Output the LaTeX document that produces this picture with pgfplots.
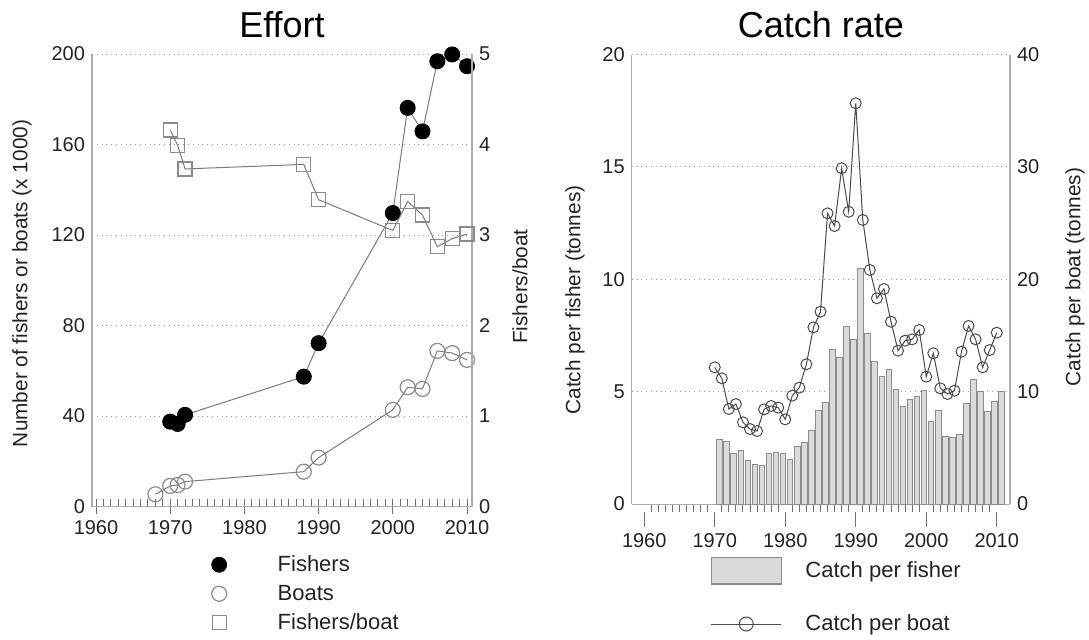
\documentclass[border=0pt]{standalone}
\usepackage{pgfplots}
\pgfplotsset{compat=1.18}
\usepackage{fontspec}
\setmainfont{Liberation Sans}
\definecolor{spine}{HTML}{ABABAB}
\definecolor{gridc}{HTML}{9A9A9A}
\definecolor{tickc}{HTML}{707070}
\definecolor{txt}{HTML}{222222}
\definecolor{mk}{HTML}{8A8A8A}
\definecolor{ln}{HTML}{7A7A7A}
\definecolor{barfill}{HTML}{DADADA}
\definecolor{baredge}{HTML}{8C8C8C}
\definecolor{cpb}{HTML}{4A4A4A}
\pgfplotsset{
  common/.style={
    scale only axis,
    /pgf/number format/assume math mode=true,
    /pgf/number format/1000 sep={},
    ticklabel style={font=\fontsize{10}{12}\selectfont, text=txt},
    axis line style={spine, line width=0.6pt},
    tick align=inside,
    ytick style={draw=none},
    xticklabel style={yshift=-3.6pt},
  },
  markleg/.style={legend image code/.code={\draw[##1, draw=none] plot coordinates {(0pt,0pt)}; \path (-8pt,0pt) -- (8pt,0pt);}},
  lineleg/.style={legend image code/.code={\draw[##1, mark repeat=2, mark phase=2] plot coordinates {(-17.5pt,0pt) (0pt,0pt) (17.5pt,0pt)};}},
  barleg/.style={legend image code/.code={\draw[fill=barfill, draw=baredge, line width=0.6pt] (-17.5pt,-6.65pt) rectangle (17.5pt,6.65pt);}},
}
\begin{document}
\begin{tikzpicture}
\path[use as bounding box] (0,0) rectangle (544.5pt,319.5pt);
% ---------------- Effort: left axis ----------------
\begin{axis}[common,
  at={(46pt,66.25pt)}, anchor=south west,
  width=190pt, height=226.25pt,
  xmin=1959.46, xmax=2010.67, ymin=0, ymax=200,
  axis x line*=bottom, axis y line*=left,
  xtick={1960,1970,...,2010}, minor x tick num=9,
  ytick={0,40,...,200},
  ymajorgrids, major grid style={dotted, gridc, line width=0.5pt},
  major tick length=7.5pt, minor tick length=4pt,
  major x tick style={yshift=-3.75pt, tickc, line width=0.5pt},
  minor x tick style={tickc, line width=0.5pt},
  title={Effort},
  every axis title/.style={at={(axis description cs:0.5,1.064)}, anchor=center, font=\fontsize{18}{21}\selectfont},
  ylabel={Number of fishers or boats (x 1000)},
  every axis y label/.style={at={(axis description cs:-0.184,0.493)}, rotate=90, anchor=center, font=\fontsize{10.4}{12}\selectfont, text=txt},
  legend cell align=left,
  legend style={at={(0.2926,-0.1078)}, anchor=north west, draw=none, fill=none,
    inner sep=0pt, outer sep=0pt, row sep=5pt, column sep=21.25pt,
    font=\fontsize{11}{13}\selectfont, nodes={inner sep=0pt, text=txt},
    /tikz/every even column/.append style={text height=8pt, text depth=0pt}},
]
\addplot[ln, line width=0.5pt, mark=*, mark size=3.75pt, mark options={fill=black, draw=black}, forget plot]
  coordinates {(1970,37.5)(1971,36.5)(1972,40.5)(1988,57.4)(1990,72.2)(2000,129.7)(2002,176.2)(2004,165.8)(2006,196.8)(2008,199.8)(2010,194.6)};
\addplot[ln, line width=0.5pt, mark=o, mark size=3.75pt, mark options={draw=mk, line width=0.6pt}, forget plot]
  coordinates {(1968,5.4)(1970,9.1)(1971,9.5)(1972,11)(1988,15.4)(1990,21.6)(2000,42.7)(2002,52.7)(2004,52)(2006,68.8)(2008,67.8)(2010,64.8)};
\addlegendimage{draw=none, mark=*, mark size=3.75pt, mark options={fill=black, draw=black}, markleg}
\addlegendentry{Fishers}
\addlegendimage{draw=none, mark=o, mark size=3.75pt, mark options={draw=mk, line width=0.6pt}, markleg}
\addlegendentry{Boats}
\addlegendimage{draw=none, mark=square, mark size=3.5pt, mark options={draw=mk, line width=0.6pt}, markleg}
\addlegendentry{Fishers/boat}
\end{axis}
% ---------------- Effort: right axis ----------------
\begin{axis}[common,
  at={(46pt,66.25pt)}, anchor=south west,
  width=190pt, height=226.25pt,
  xmin=1959.46, xmax=2010.67, ymin=0, ymax=5,
  axis x line=none, axis y line*=right,
  ytick={0,1,...,5},
  ylabel={Fishers/boat},
  every axis y label/.style={at={(axis description cs:1.126,0.486)}, rotate=90, anchor=center, font=\fontsize{10.4}{12}\selectfont, text=txt},
]
\addplot[ln, line width=0.5pt, mark=square, mark size=3.5pt, mark options={draw=mk, line width=0.6pt}]
  coordinates {(1970,4.16)(1971,3.99)(1972,3.73)(1988,3.78)(1990,3.39)(2000,3.05)(2002,3.37)(2004,3.22)(2006,2.87)(2008,2.96)(2010,3.01)};
\end{axis}
% ---------------- Catch rate: left axis ----------------
\begin{axis}[common,
  at={(315.85pt,67.45pt)}, anchor=south west,
  width=189.15pt, height=224.8pt,
  xmin=1958.22, xmax=2011.88, ymin=0, ymax=20,
  axis x line*=bottom, axis y line*=left,
  xtick={1960,1970,...,2010}, minor x tick num=9,
  ytick={0,5,...,20},
  ymajorgrids, major grid style={dotted, gridc, line width=0.5pt},
  major tick length=7.5pt, minor tick length=4pt,
  major x tick style={yshift=-3.75pt, tickc, line width=0.5pt},
  minor x tick style={tickc, line width=0.5pt},
  ybar, bar width=0.8,
  title={Catch rate},
  every axis title/.style={at={(axis description cs:0.5,1.066)}, anchor=center, font=\fontsize{18}{21}\selectfont},
  ylabel={Catch per fisher (tonnes)},
  every axis y label/.style={at={(axis description cs:-0.15,0.454)}, rotate=90, anchor=center, font=\fontsize{10.4}{12}\selectfont, text=txt},
]
\addplot[fill=barfill, draw=baredge, line width=0.4pt, forget plot] coordinates {
(1970,2.90)(1971,2.78)(1972,2.26)(1973,2.39)(1974,1.96)(1975,1.78)(1976,1.72)(1977,2.26)(1978,2.29)(1979,2.26)
(1980,1.99)(1981,2.55)(1982,2.73)(1983,3.27)(1984,4.19)(1985,4.51)(1986,6.86)(1987,6.53)(1988,7.89)(1989,7.33)
(1990,10.49)(1991,7.60)(1992,6.37)(1993,5.67)(1994,6.00)(1995,5.12)(1996,4.33)(1997,4.66)(1998,4.78)(1999,5.08)
(2000,3.70)(2001,4.17)(2002,3.03)(2003,2.98)(2004,3.12)(2005,4.48)(2006,5.55)(2007,5.03)(2008,4.14)(2009,4.57)(2010,5.03)};
\end{axis}
% ---------------- Catch rate: right axis ----------------
\begin{axis}[common,
  at={(315.85pt,67.45pt)}, anchor=south west,
  width=189.15pt, height=224.8pt,
  xmin=1958.22, xmax=2011.88, ymin=0, ymax=40,
  axis x line=none, axis y line*=right,
  ytick={0,10,...,40},
  ylabel={Catch per boat (tonnes)},
  every axis y label/.style={at={(axis description cs:1.172,0.505)}, rotate=90, anchor=center, font=\fontsize{10.4}{12}\selectfont, text=txt},
  legend cell align=left,
  legend style={at={(0.2088,-0.117)}, anchor=north west, draw=none, fill=none,
    inner sep=0pt, outer sep=0pt, row sep=15pt, column sep=11.8pt,
    font=\fontsize{11}{13}\selectfont, nodes={inner sep=0pt, text=txt},
    /tikz/every even column/.append style={text height=8pt, text depth=0pt}},
]
\addplot[cpb, line width=0.5pt, mark=o, mark size=2.75pt, mark options={line width=0.5pt}, forget plot] coordinates {
(1970,12.17)(1971,11.19)(1972,8.46)(1973,8.9)(1974,7.28)(1975,6.68)(1976,6.5)(1977,8.43)(1978,8.73)(1979,8.58)
(1980,7.54)(1981,9.65)(1982,10.36)(1983,12.44)(1984,15.73)(1985,17.12)(1986,25.87)(1987,24.74)(1988,29.88)(1989,26.01)
(1990,35.66)(1991,25.28)(1992,20.83)(1993,18.31)(1994,19.14)(1995,16.23)(1996,13.65)(1997,14.54)(1998,14.66)(1999,15.49)
(2000,11.34)(2001,13.42)(2002,10.3)(2003,9.8)(2004,10.09)(2005,13.56)(2006,15.85)(2007,14.66)(2008,12.17)(2009,13.71)(2010,15.25)};
\addlegendimage{barleg}
\addlegendentry{Catch per fisher}
\addlegendimage{cpb, line width=0.5pt, mark=o, mark size=3.5pt, mark options={line width=0.5pt}, lineleg}
\addlegendentry{Catch per boat}
\end{axis}
\end{tikzpicture}
\end{document}
